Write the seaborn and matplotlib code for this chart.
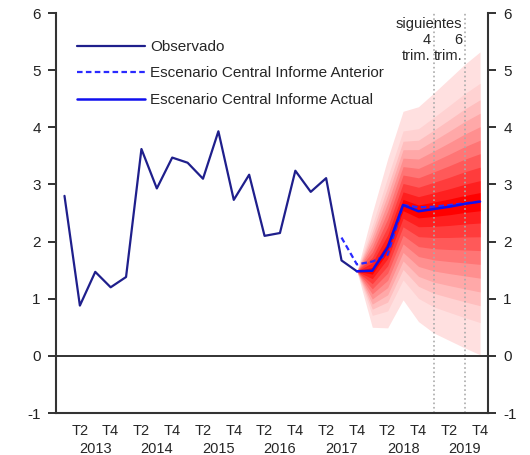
import numpy as np
import pandas as pd
import matplotlib.pyplot as plt
import seaborn as sns

# trimestres 2013T1 .. 2019T4
years = ['2013', '2014', '2015', '2016', '2017', '2018', '2019']
quarters = ['T1', 'T2', 'T3', 'T4']

# observado (2013T1 .. 2017T4)
observado = [2.8, 0.88, 1.47, 1.2, 1.38, 3.62, 2.93, 3.47, 3.38, 3.1,
             3.93, 2.73, 3.17, 2.1, 2.15, 3.24, 2.87, 3.11, 1.67, 1.48]

# escenario central actual (2017T4 .. 2019T4)
actual = [1.48, 1.49, 1.9, 2.64, 2.53, 2.57, 2.61, 2.66, 2.70]
# escenario central anterior (2017T3 .. 2019T4)
anterior = [2.07, 1.6, 1.65, 1.77, 2.64, 2.6, 2.61, 2.64, 2.67, 2.70]

# bordes del fan chart (2017T4 .. 2019T4)
fan_sup = [1.48, 2.5, 3.45, 4.28, 4.36, 4.6, 4.85, 5.1, 5.32]
fan_inf = [1.48, 0.5, 0.49, 0.98, 0.6, 0.4, 0.27, 0.14, 0.02]
bandas = [1.0, 0.79, 0.68, 0.59, 0.5, 0.41, 0.32, 0.23, 0.14, 0.06]

idx = np.arange(len(years) * 4)
obs_df = pd.DataFrame({'t': idx[:len(observado)], 'v': observado})
act_df = pd.DataFrame({'t': idx[19:19 + len(actual)], 'v': actual})
ant_df = pd.DataFrame({'t': idx[18:18 + len(anterior)], 'v': anterior})

sns.set_style('white')
plt.rcParams['font.family'] = ['Liberation Sans', 'DejaVu Sans']
plt.rcParams['axes.unicode_minus'] = False

fig, ax = plt.subplots(figsize=(5.3, 4.55), dpi=100)
fig.subplots_adjust(left=0.1057, right=0.9208, top=0.9714, bottom=0.0923)

# fan chart
t_fan = act_df['t'].values
c = np.array(actual)
up = np.array(fan_sup)
lo = np.array(fan_inf)
n = len(bandas)
for i, f in enumerate(bandas):
    k = (i / (n - 1)) ** 1.25
    col = (1.0, 0.88 * (1 - k), 0.88 * (1 - k))
    ax.fill_between(t_fan, c - f * (c - lo), c + f * (up - c),
                    color=col, lw=0, zorder=1)

# lineas verticales
for xv in [24, 26]:
    ax.axvline(xv, color='#aaaaaa', ls=':', lw=1.2, zorder=2)
ax.axhline(0, color='#222222', lw=1.3, zorder=2)

sns.lineplot(data=obs_df, x='t', y='v', color='#1f1f8c', lw=1.6,
             label='Observado', ax=ax, zorder=4)
sns.lineplot(data=ant_df, x='t', y='v', color='#2a2aff', lw=1.6,
             ls=(0, (2.5, 1.5)), label='Escenario Central Informe Anterior',
             ax=ax, zorder=4)
sns.lineplot(data=act_df, x='t', y='v', color='#1010ee', lw=1.8,
             label='Escenario Central Informe Actual', ax=ax, zorder=5)

ax.text(25.85, 5.8, 'siguientes', ha='right', va='center', fontsize=10.5)
ax.text(23.8, 5.52, '4', ha='right', va='center', fontsize=10.5)
ax.text(25.85, 5.52, '6', ha='right', va='center', fontsize=10.5)
ax.text(23.8, 5.25, 'trim.', ha='right', va='center', fontsize=10.5)
ax.text(25.85, 5.25, 'trim.', ha='right', va='center', fontsize=10.5)

ax.set_xlim(-0.55, 27.52)
ax.set_ylim(-1, 6)
ax.set_yticks(range(-1, 7))
ax.tick_params(axis='y', which='both', left=True, right=True,
               labelleft=True, labelright=True, length=6, width=1.3,
               labelsize=11, colors='#222222', pad=5)

ax.set_xticks(idx[1::2])
ax.set_xticklabels([quarters[i % 4] for i in idx[1::2]])
ax.set_xticks(idx[2::4], minor=True)
ax.set_xticklabels(years, minor=True)
ax.tick_params(axis='x', which='major', length=0, pad=8, labelsize=10.5)
ax.tick_params(axis='x', which='minor', length=0, pad=21, labelsize=10.5)

for s in ['left', 'right', 'bottom']:
    ax.spines[s].set_visible(True)
    ax.spines[s].set_color('#333333')
    ax.spines[s].set_linewidth(1.5)
ax.spines['top'].set_visible(False)

ax.set_xlabel('')
ax.set_ylabel('')
ax.legend(loc='upper left', bbox_to_anchor=(0.034, 0.948), frameon=False,
          fontsize=11, handlelength=4.45, handletextpad=0.35,
          labelspacing=0.82, borderaxespad=0)

fig.savefig('out.png', dpi=100)
